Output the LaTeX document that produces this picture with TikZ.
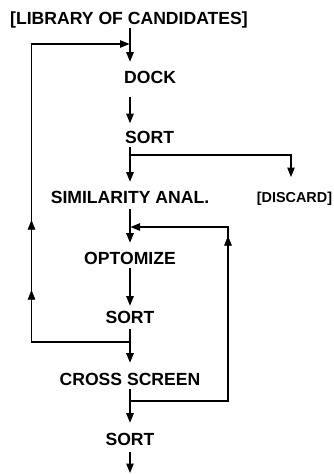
\documentclass[tikz,border=0pt]{standalone}
\usepackage{fontspec}
\setmainfont{Liberation Sans}
\usetikzlibrary{arrows.meta,decorations.markings}
\begin{document}
\begin{tikzpicture}[x=1pt,y=-1pt,
  lbl/.style={font=\bfseries\fontsize{17.6}{20}\selectfont, inner sep=0pt,
    text height=12.6pt, text depth=0pt},
  smalllbl/.style={font=\bfseries\fontsize{14.4}{17}\selectfont, inner sep=0pt,
    text height=10.3pt, text depth=0pt},
  tipshape/.tip={Triangle[length=9.5pt,width=7.5pt]},
  wire/.style={line width=1.1pt},
  flow/.style={wire, -tipshape, shorten <=4pt, shorten >=8pt},
  upmarks/.style={postaction={decorate, decoration={markings,
    mark=at position #1 with {\arrow{tipshape}}}}}]
\useasboundingbox (0,0) rectangle (333,474);

% stage labels
\node[lbl, anchor=base] (lib) at (129,24) {[LIBRARY OF CANDIDATES]};
\node[lbl, anchor=base west] (dock) at (124,83) {DOCK};
\node[lbl, anchor=base west] (sortA) at (125,143) {SORT};
\node[lbl, anchor=base] (sim) at (130,203) {SIMILARITY ANAL.};
\node[smalllbl, anchor=base] (disc) at (294.5,202.5) {[DISCARD]};
\node[lbl, anchor=base] (opt) at (130,264) {OPTOMIZE};
\node[lbl, anchor=base] (sortB) at (130,323) {SORT};
\node[lbl, anchor=base] (cross) at (130,385) {CROSS SCREEN};
\node[lbl, anchor=base] (sortC) at (130,445) {SORT};

% main column and junctions
\coordinate (col) at (130,0);
\coordinate (jD) at (130,155);
\coordinate (dtip) at (291,177);
\coordinate (jL) at (130,342);
\coordinate (cL) at (31.5,342);
\coordinate (tL) at (31.5,44);
\coordinate (eL) at (130,44);
\coordinate (jR) at (130,401);
\coordinate (cR) at (228,401);
\coordinate (tR) at (228,227);
\coordinate (eR) at (130,227);
\coordinate (out) at (130,473);

% main flow
\draw[flow, shorten >=8.5pt] (lib.south -| col) -- (dock.north -| col);
\draw[flow, shorten <=13.5pt, shorten >=7pt] (dock.south -| col) -- (sortA.north -| col);
\draw[flow, shorten >=8.5pt] (sortA.south -| col) -- (sim.north -| col);
\draw[flow, shorten <=6pt, shorten >=8.5pt] (sim.south) -- (opt.north);
\draw[flow, shorten >=4.5pt] (opt.south) -- (sortB.north);
\draw[flow, shorten <=6pt, shorten >=9.5pt] (sortB.south) -- (cross.north);
\draw[flow, shorten >=9.5pt] (cross.south) -- (sortC.north);
\draw[flow, shorten <=7pt, shorten >=0pt] (sortC.south) -- (out);

% branch to discard
\draw[flow, shorten <=0pt, shorten >=0pt] (jD) -| (dtip);

% outer loop back to docking
\draw[flow, shorten <=0pt, shorten >=0.5pt] (jL) -- (cL) -- (tL) -- (eL);
\path[upmarks=52pt] (cL) -- (tL);
\path[upmarks=122pt] (cL) -- (tL);

% inner loop back to optimization
\draw[flow, shorten <=0pt, shorten >=0.5pt] (jR) -- (cR) -- (tR) -- (eR);
\path[upmarks=165pt] (cR) -- (tR);
\end{tikzpicture}
\end{document}
